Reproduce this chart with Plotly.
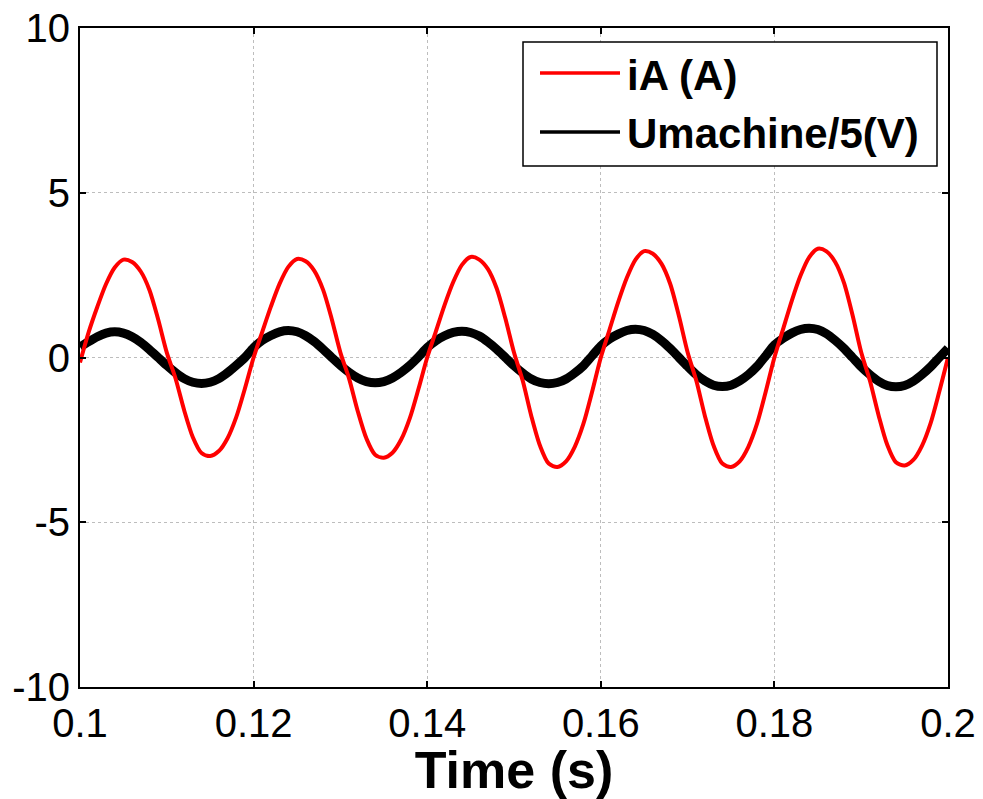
import plotly.graph_objects as go

# ---------------- data ----------------
time_s = [round(0.100 + 0.001 * i, 3) for i in range(101)]

ia_A = [
    -0.15, 0.77, 1.54, 2.23, 2.73, 2.97, 2.90, 2.61, 2.05, 1.16, 0.15,
    -0.63, -1.60, -2.42, -2.90, -2.99, -2.84, -2.45, -1.81, -0.94, 0.00,
    0.78, 1.55, 2.24, 2.75, 2.99, 2.92, 2.63, 2.06, 1.17, 0.15,
    -0.64, -1.63, -2.46, -2.95, -3.04, -2.89, -2.49, -1.84, -0.95, 0.00,
    0.79, 1.59, 2.29, 2.81, 3.05, 2.97, 2.68, 2.10, 1.19, 0.15,
    -0.70, -1.78, -2.68, -3.22, -3.32, -3.15, -2.71, -2.01, -1.04, 0.00,
    0.84, 1.68, 2.42, 2.97, 3.23, 3.15, 2.84, 2.23, 1.26, 0.16,
    -0.70, -1.78, -2.68, -3.22, -3.32, -3.15, -2.71, -2.01, -1.04, 0.00,
    0.86, 1.72, 2.48, 3.04, 3.30, 3.22, 2.90, 2.28, 1.29, 0.16,
    -0.70, -1.75, -2.65, -3.18, -3.28, -3.11, -2.68, -1.99, -1.03, 0.00,
]

umachine_div5_V = [
    0.32, 0.48, 0.63, 0.74, 0.78, 0.74, 0.63, 0.46, 0.24, 0.00,
    -0.24, -0.46, -0.64, -0.75, -0.79, -0.75, -0.64, -0.46, -0.24, 0.00,
    0.30, 0.52, 0.67, 0.78, 0.82, 0.78, 0.66, 0.48, 0.25, 0.00,
    -0.24, -0.45, -0.62, -0.73, -0.77, -0.73, -0.62, -0.45, -0.24, 0.02,
    0.30, 0.51, 0.66, 0.76, 0.80, 0.76, 0.65, 0.47, 0.25, 0.00,
    -0.25, -0.47, -0.65, -0.76, -0.80, -0.76, -0.65, -0.47, -0.25, 0.05,
    0.35, 0.56, 0.71, 0.82, 0.86, 0.82, 0.70, 0.51, 0.27, 0.00,
    -0.27, -0.52, -0.71, -0.84, -0.88, -0.84, -0.71, -0.52, -0.27, 0.05,
    0.38, 0.58, 0.74, 0.85, 0.89, 0.85, 0.72, 0.52, 0.28, 0.00,
    -0.28, -0.52, -0.72, -0.85, -0.89, -0.85, -0.72, -0.52, -0.28, 0.00,
    0.28,
]

series_names = ["iA (A)", "Umachine/5(V)"]
x_tick_vals = [0.10, 0.12, 0.14, 0.16, 0.18, 0.20]
x_tick_text = ["0.1", "0.12", "0.14", "0.16", "0.18", "0.2"]
y_tick_vals = [-10, -5, 0, 5, 10]
y_tick_text = ["-10", "-5", "0", "5", "10"]
x_title = "Time (s)"

# ---------------- figure ----------------
FONT = "Liberation Sans, Arial, sans-serif"

fig = go.Figure()
fig.add_trace(go.Scatter(
    x=time_s, y=umachine_div5_V, mode="lines", name=series_names[1],
    line=dict(color="black", width=9, shape="spline", smoothing=0.8),
    showlegend=False,
))
fig.add_trace(go.Scatter(
    x=time_s, y=ia_A, mode="lines", name=series_names[0],
    line=dict(color="#ff0000", width=4, shape="spline", smoothing=0.8),
    showlegend=False,
))

axis_common = dict(
    showline=True, linecolor="black", linewidth=2, mirror="ticks",
    ticks="inside", ticklen=6, tickwidth=1.5, tickcolor="black",
    showgrid=True, gridcolor="#bdbdbd", griddash="dot", gridwidth=1,
    zeroline=False, automargin=False,
    tickfont=dict(family=FONT, size=40, color="black"),
)

fig.update_xaxes(
    range=[0.1, 0.2], tickmode="array", tickvals=x_tick_vals, ticktext=x_tick_text,
    title=dict(text=x_title, font=dict(family=FONT, size=52, color="black", weight="bold"),
               standoff=8),
    **axis_common,
)
fig.update_yaxes(
    range=[-10, 10], tickmode="array", tickvals=y_tick_vals, ticktext=y_tick_text,
    **axis_common,
)

# custom legend (box, line samples, labels) in paper coordinates
def px2paper_x(px):
    return (px - 80) / 868.0

def px2paper_y(py):
    return (687 - py) / 659.0

shapes = [
    dict(type="rect", xref="paper", yref="paper",
         x0=px2paper_x(523), x1=px2paper_x(937), y0=px2paper_y(166), y1=px2paper_y(42),
         line=dict(color="black", width=1.5), fillcolor="white", layer="above"),
    dict(type="line", xref="paper", yref="paper",
         x0=px2paper_x(540), x1=px2paper_x(620), y0=px2paper_y(73), y1=px2paper_y(73),
         line=dict(color="#ff0000", width=3.5), layer="above"),
    dict(type="line", xref="paper", yref="paper",
         x0=px2paper_x(540), x1=px2paper_x(620), y0=px2paper_y(132), y1=px2paper_y(132),
         line=dict(color="black", width=3.5), layer="above"),
]
annotations = [
    dict(xref="paper", yref="paper", x=px2paper_x(625), y=px2paper_y(75),
         xanchor="left", yanchor="middle", showarrow=False, text=series_names[0],
         font=dict(family=FONT, size=42, color="black", weight="bold")),
    dict(xref="paper", yref="paper", x=px2paper_x(625), y=px2paper_y(133),
         xanchor="left", yanchor="middle", showarrow=False, text=series_names[1],
         font=dict(family=FONT, size=42, color="black", weight="bold")),
]

fig.update_layout(
    width=983, height=799,
    margin=dict(l=80, r=35, t=28, b=112),
    paper_bgcolor="white", plot_bgcolor="white",
    shapes=shapes, annotations=annotations,
    showlegend=False,
    font=dict(family=FONT),
)

fig.write_html("out.html")
